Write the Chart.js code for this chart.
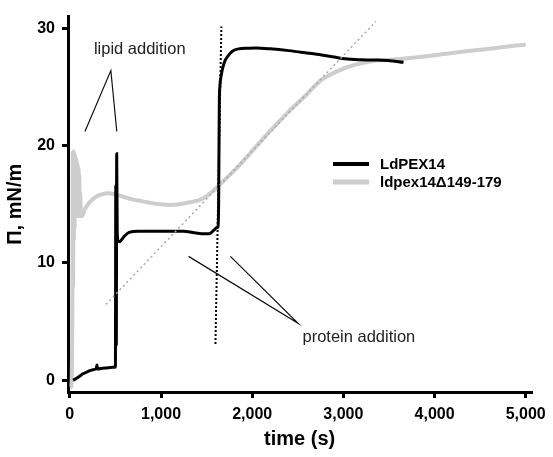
<!DOCTYPE html>
<html>
<head>
<meta charset="utf-8">
<title>Surface pressure vs time</title>
<script src="https://cdn.jsdelivr.net/npm/chart.js@4.4.1/dist/chart.umd.min.js"></script>
<style>
  html, body { margin: 0; padding: 0; background: #fff; }
  #wrap { width: 553px; height: 457px; }
</style>
</head>
<body>
<div id="wrap"><canvas id="myChart" width="553" height="457"></canvas></div>
<script>
// series (time in s, surface pressure in mN/m)
var seriesNames = ['LdPEX14', 'ldpex14\u0394149-179'];

var blackTime = [35, 60, 100, 144, 200, 253, 290, 297, 304, 340, 400, 472, 495, 500, 504, 510, 514, 520, 530, 545,
  560, 600, 650, 750, 850, 950, 1050, 1150, 1250, 1350, 1450, 1530, 1580, 1610, 1625, 1632, 1636, 1640, 1645, 1660,
  1695, 1740, 1783, 1850, 1950, 2040, 2200, 2400, 2600, 2760, 2900, 3020, 3200, 3310, 3490, 3660];
var blackPi = [0.0, 0.1, 0.3, 0.55, 0.75, 0.9, 1.0, 1.3, 0.95, 1.0, 1.05, 1.1, 1.1, 1.2, 16.6, 3.0, 19.3, 12.6, 11.9, 11.8,
  11.9, 12.3, 12.6, 12.7, 12.7, 12.7, 12.7, 12.7, 12.7, 12.6, 12.5, 12.5, 12.8, 13.0, 13.1, 15.0, 20.0, 24.0, 25.0, 26.0,
  27.1, 27.7, 28.05, 28.25, 28.3, 28.32, 28.25, 28.1, 27.9, 27.73, 27.55, 27.4, 27.32, 27.3, 27.25, 27.1];

var grayTime = [0, 15, 22, 26, 30, 33, 36, 40, 44, 48, 52, 56, 60, 64, 68, 72, 76, 80, 84, 88,
  92, 96, 100, 104, 108, 112, 116, 122, 135, 160, 200, 260, 330, 415, 500, 600, 700, 800, 900, 1000,
  1100, 1200, 1300, 1420, 1500, 1564, 1620, 1700, 1856, 2040, 2216, 2400, 2590, 2760, 2950, 3130, 3310, 3490, 3700, 4000,
  4300, 4600, 4800, 5000];
var grayPi = [-0.6, -0.5, 0.5, 4.0, 9.0, 19.4, 8.0, 19.5, 12.0, 19.3, 13.0, 19.2, 14.0, 19.0, 14.2, 18.8, 14.0, 18.5, 14.5, 18.3,
  14.2, 18.0, 14.0, 17.5, 14.0, 16.0, 15.6, 14.0, 14.0, 14.5, 15.0, 15.5, 15.8, 15.95, 15.85, 15.6, 15.4, 15.25, 15.1, 15.0,
  14.95, 15.0, 15.15, 15.35, 15.7, 16.1, 16.5, 17.1, 18.3, 19.9, 21.4, 22.9, 24.3, 25.6, 26.4, 26.9, 27.2, 27.3, 27.45, 27.7,
  28.0, 28.25, 28.45, 28.6];

// tangent (dotted) lines
var blackFitTime = [1597, 1662];
var blackFitPi = [3.1, 30.16];
var grayFitTime = [395, 3356];
var grayFitPi = [6.46, 30.58];

var xTicks = [0, 1000, 2000, 3000, 4000, 5000];
var yTicks = [0, 10, 20, 30];

// annotation pointers (data coordinates)
var lipidNoteTime = [166, 450, 515];
var lipidNotePi = [21.2, 26.4, 21.2];
var proteinNoteTime = [1302, 2503, 1761];
var proteinNotePi = [10.56, 4.86, 10.56];
var notes = [
  { text: 'lipid addition', t: 767, pi: 28.24 },
  { text: 'protein addition', t: 3170, pi: 3.61 }
];

function pts(xs, ys) {
  return xs.map(function (x, i) { return { x: x, y: ys[i] }; });
}

var FONT = "'Liberation Sans', Arial, Helvetica, sans-serif";

var extras = {
  id: 'extras',
  afterDatasetsDraw: function (chart) {
    var ctx = chart.ctx;
    var xs = chart.scales.x, ys = chart.scales.y;
    ctx.save();
    // annotation texts
    ctx.fillStyle = '#222';
    ctx.font = '16.5px ' + FONT;
    ctx.textAlign = 'center';
    ctx.textBaseline = 'middle';
    notes.forEach(function (n) {
      ctx.fillText(n.text, xs.getPixelForValue(n.t), ys.getPixelForValue(n.pi));
    });
    // legend
    var items = [
      { label: seriesNames[0], color: '#000', w: 4, y: 164 },
      { label: seriesNames[1], color: '#cdcdcd', w: 5, y: 182 }
    ];
    ctx.font = 'bold 15px ' + FONT;
    ctx.textAlign = 'left';
    items.forEach(function (it) {
      ctx.strokeStyle = it.color;
      ctx.lineWidth = it.w;
      ctx.beginPath();
      ctx.moveTo(333, it.y);
      ctx.lineTo(369, it.y);
      ctx.stroke();
      ctx.fillStyle = '#000';
      ctx.fillText(it.label, 380, it.y + 1);
    });
    ctx.restore();
  }
};

var ctx = document.getElementById('myChart').getContext('2d');

var chart = new Chart(ctx, {
  type: 'line',
  data: {
    datasets: [
      { label: 'black fit', data: pts(blackFitTime, blackFitPi), borderColor: '#000', borderWidth: 2, borderDash: [2, 2], order: 1 },
      { label: 'gray fit', data: pts(grayFitTime, grayFitPi), borderColor: '#a8a8a8', borderWidth: 1.5, borderDash: [2, 3], order: 1 },
      { label: 'lipid', data: pts(lipidNoteTime, lipidNotePi), borderColor: '#111', borderWidth: 1.2, order: 1 },
      { label: 'protein', data: pts(proteinNoteTime, proteinNotePi), borderColor: '#111', borderWidth: 1.2, order: 1 },
      { label: seriesNames[0], data: pts(blackTime, blackPi), borderColor: '#000', borderWidth: 3, cubicInterpolationMode: 'monotone', order: 2 },
      { label: seriesNames[1], data: pts(grayTime, grayPi), borderColor: '#cdcdcd', borderWidth: 4, cubicInterpolationMode: 'monotone', order: 3 }
    ]
  },
  options: {
    responsive: false,
    animation: false,
    devicePixelRatio: 1,
    layout: { padding: { top: 10, right: 20, left: 0, bottom: 0 } },
    elements: { point: { radius: 0 }, line: { fill: false } },
    plugins: { legend: { display: false }, tooltip: { enabled: false } },
    scales: {
      x: {
        type: 'linear',
        min: -20,
        max: 5060,
        afterFit: function (s) { s.height = 65; },
        afterBuildTicks: function (s) { s.ticks = xTicks.map(function (v) { return { value: v }; }); },
        border: { color: '#000', width: 3 },
        grid: { drawOnChartArea: false, color: '#000', lineWidth: 3, tickLength: 6 },
        ticks: {
          color: '#000',
          padding: 7,
          maxRotation: 0,
          font: { family: FONT, size: 16, weight: 'bold' },
          callback: function (v) { return v.toLocaleString('en-US'); }
        },
        title: { display: true, text: 'time (s)', color: '#000', padding: { top: 0, bottom: 6 }, font: { family: FONT, size: 20, weight: 'bold' } }
      },
      y: {
        type: 'linear',
        min: -1,
        max: 31,
        afterFit: function (s) { s.width = 68; },
        afterBuildTicks: function (s) { s.ticks = yTicks.map(function (v) { return { value: v }; }); },
        border: { color: '#000', width: 3 },
        grid: { drawOnChartArea: false, color: '#000', lineWidth: 3, tickLength: 6 },
        ticks: {
          color: '#000',
          padding: 7,
          font: { family: FONT, size: 16, weight: 'bold' }
        },
        title: { display: true, text: '\u03A0, mN/m', color: '#000', padding: { top: 3, bottom: 0 }, font: { family: FONT, size: 20, weight: 'bold' } }
      }
    }
  },
  plugins: [extras]
});
</script>
</body>
</html>
